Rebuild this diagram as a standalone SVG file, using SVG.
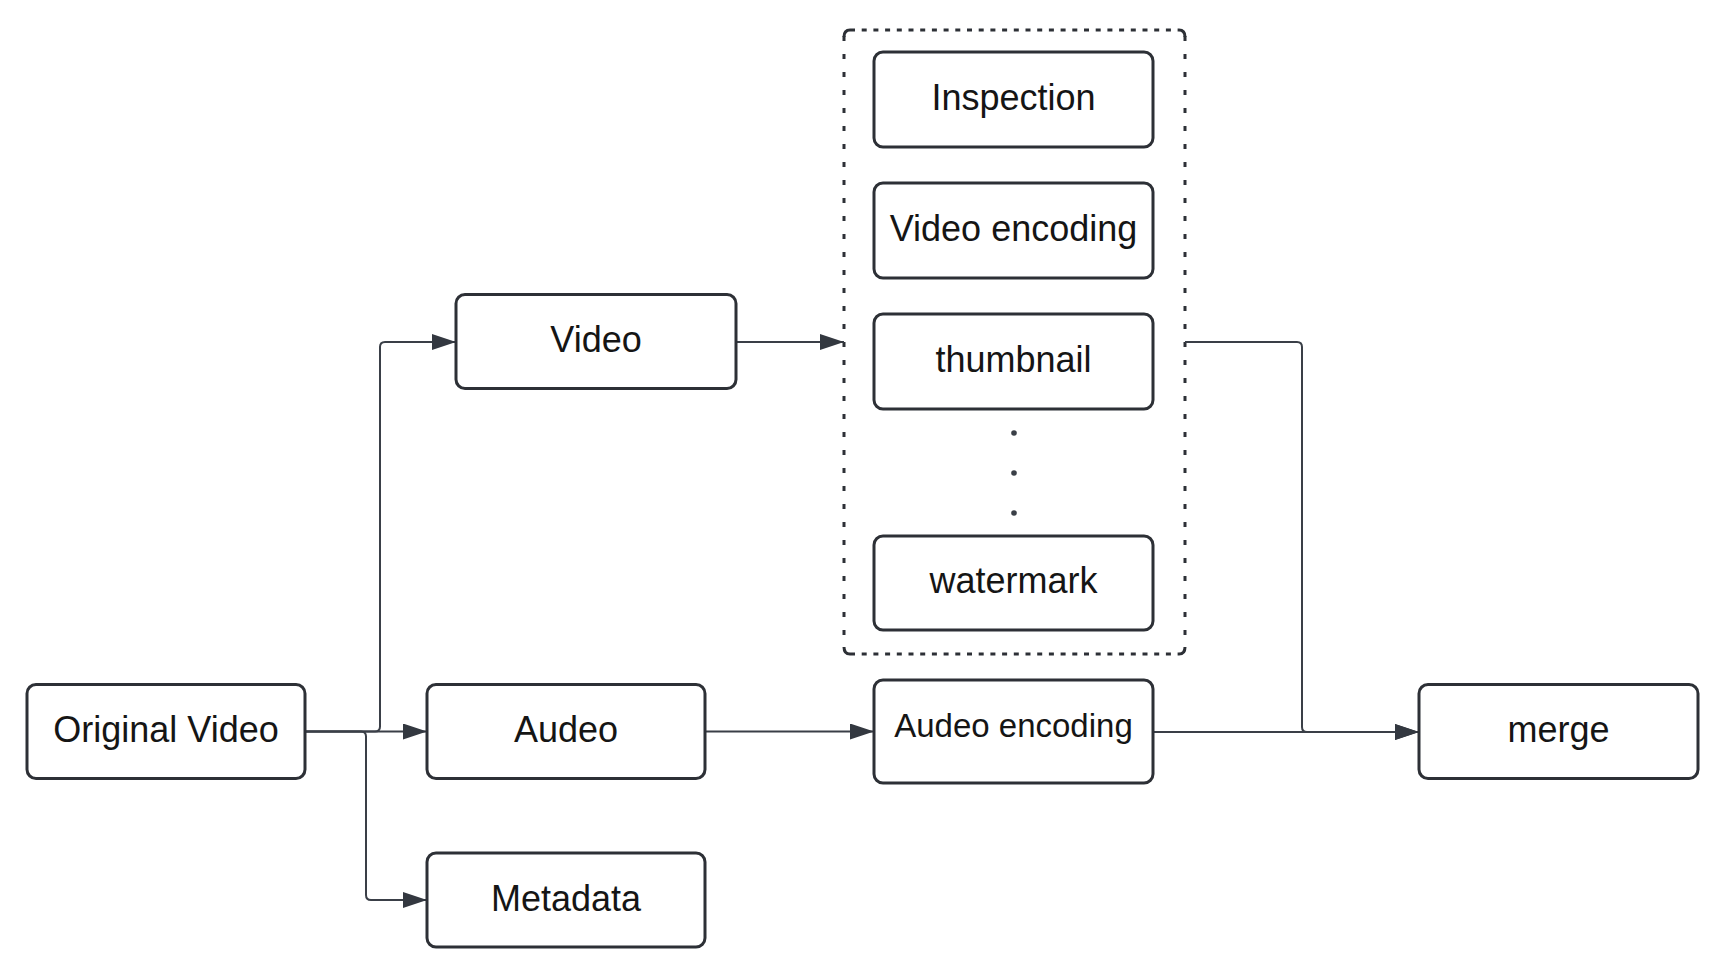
<svg xmlns="http://www.w3.org/2000/svg" width="1726" height="968" viewBox="0 0 1726 968">
<style>
.box{fill:#ffffff;stroke:#2d3036;stroke-width:3}
.lbl{font-family:"Liberation Sans",Arial,sans-serif;font-size:36px;fill:#151515;text-anchor:middle}
.small{font-size:33px}
.conn{fill:none;stroke:#3a3f47;stroke-width:2}
.dh{fill:none;stroke:#2d3036;stroke-width:3;stroke-dasharray:5 6.7}
.dv{fill:none;stroke:#2d3036;stroke-width:3;stroke-dasharray:5 13}
</style>
<defs>
<marker id="arr" markerWidth="24" markerHeight="16" refX="24" refY="8" orient="auto" markerUnits="userSpaceOnUse">
<path d="M0,0 L24,8 L0,16 Z" fill="#333840"/>
</marker>
</defs>
<rect width="1726" height="968" fill="#ffffff"/>

<g id="container">
<path class="dh" d="M850,30 L1179,30"/>
<path class="dh" d="M850,654 L1179,654"/>
<path class="dv" d="M844,36 L844,648"/>
<path class="dv" d="M1185,36 L1185,648"/>
<path d="M844,37 Q844,30 850,30 M1179,30 Q1185,30 1185,37 M844,647 Q844,654 850,654 M1179,654 Q1185,654 1185,647" fill="none" stroke="#2d3036" stroke-width="3"/>
</g>

<g id="connectors">
<path class="conn" d="M305,731.5 L375,731.5 Q380,731.5 380,726.5 L380,347 Q380,342 385,342 L456,342" marker-end="url(#arr)"/>
<path class="conn" d="M305,731.5 L427,731.5" marker-end="url(#arr)"/>
<path class="conn" d="M305,731.5 L361,731.5 Q366,731.5 366,736.5 L366,895 Q366,900 371,900 L427,900" marker-end="url(#arr)"/>
<path class="conn" d="M736,342 L844,342" marker-end="url(#arr)"/>
<path class="conn" d="M705,731.5 L874,731.5" marker-end="url(#arr)"/>
<path class="conn" d="M1185,342 L1297,342 Q1302,342 1302,347 L1302,727 Q1302,732 1307,732 L1419,732" marker-end="url(#arr)"/>
<path class="conn" d="M1153,732 L1419,732" marker-end="url(#arr)"/>
</g>

<g id="original-video">
<rect class="box" x="27" y="684.5" width="278" height="94" rx="9"/>
<text class="lbl" x="166" y="742">Original Video</text>
</g>
<g id="video">
<rect class="box" x="456" y="294.5" width="280" height="94" rx="9"/>
<text class="lbl" x="596" y="352">Video</text>
</g>
<g id="audeo">
<rect class="box" x="427" y="684.5" width="278" height="94" rx="9"/>
<text class="lbl" x="566" y="742">Audeo</text>
</g>
<g id="metadata">
<rect class="box" x="427" y="853" width="278" height="94" rx="9"/>
<text class="lbl" x="566" y="910.5">Metadata</text>
</g>
<g id="inspection">
<rect class="box" x="874" y="52" width="279" height="95" rx="9"/>
<text class="lbl" x="1013.5" y="110">Inspection</text>
</g>
<g id="video-encoding">
<rect class="box" x="874" y="183" width="279" height="95" rx="9"/>
<text class="lbl" x="1013.5" y="241">Video encoding</text>
</g>
<g id="thumbnail">
<rect class="box" x="874" y="314" width="279" height="95" rx="9"/>
<text class="lbl" x="1013.5" y="372">thumbnail</text>
</g>
<g id="ellipsis">
<circle cx="1014" cy="433" r="2.8" fill="#3a3f47"/>
<circle cx="1014" cy="473" r="2.8" fill="#3a3f47"/>
<circle cx="1014" cy="513" r="2.8" fill="#3a3f47"/>
</g>
<g id="watermark">
<rect class="box" x="874" y="536" width="279" height="94" rx="9"/>
<text class="lbl" x="1013.5" y="593">watermark</text>
</g>
<g id="audeo-encoding">
<rect class="box" x="874" y="680" width="279" height="103" rx="9"/>
<text class="lbl small" x="1013.5" y="737">Audeo encoding</text>
</g>
<g id="merge">
<rect class="box" x="1419" y="684.5" width="279" height="94" rx="9"/>
<text class="lbl" x="1558.5" y="742">merge</text>
</g>
</svg>
